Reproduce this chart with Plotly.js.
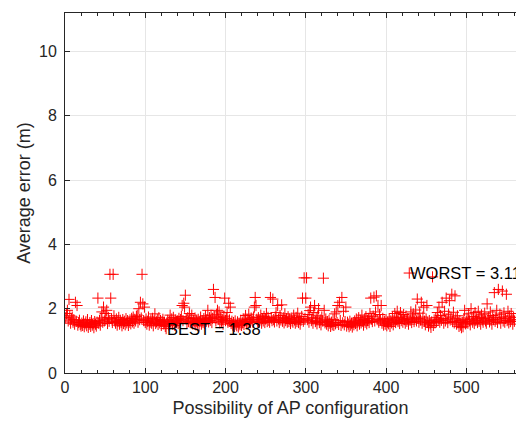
<!DOCTYPE html>
<html>
<head>
<meta charset="utf-8">
<script src="https://cdn.plot.ly/plotly-3.0.1.min.js"></script>
<style>html,body{margin:0;padding:0;background:#fff;}#chart{width:516px;height:424px;}</style>
</head>
<body>
<div id="chart"></div>
<script>
// Average error (m) for each AP configuration (index 1..560)
const avgError = [
1.72,1.85,1.95,1.62,2.29,1.78,1.55,1.68,1.74,1.58,1.66,1.52,2.20,1.61,2.10,1.49,1.57,1.64,1.51,1.46,
1.55,1.48,1.62,1.44,1.53,1.59,1.47,1.66,1.42,1.51,1.57,1.45,1.63,1.49,1.54,1.41,1.60,1.52,1.46,1.58,
2.33,1.55,1.64,1.49,1.71,1.90,1.58,2.05,1.62,1.85,1.67,1.95,1.54,1.73,1.61,3.07,2.33,1.69,1.57,3.07,
1.78,1.62,1.55,1.68,1.49,1.60,1.73,1.52,1.64,1.57,1.47,1.66,1.54,1.61,1.50,1.69,1.56,1.63,1.48,1.58,
1.65,1.53,1.70,1.59,1.74,1.55,1.67,1.62,1.76,1.80,1.58,2.00,1.66,2.20,1.71,3.07,2.15,1.63,2.05,1.57,
1.68,1.52,1.61,1.74,1.49,1.58,1.65,1.55,1.70,1.47,1.62,1.84,1.54,1.59,1.66,1.51,1.72,1.56,1.63,1.48,
1.60,1.67,1.53,1.58,1.45,1.38,1.56,1.64,1.50,1.61,1.80,1.55,1.68,1.52,1.73,1.59,1.48,1.65,1.57,1.62,
1.54,1.70,1.58,1.66,1.76,2.10,1.63,2.17,2.05,2.42,1.68,1.55,1.72,1.60,1.85,1.57,1.69,1.80,1.53,1.64,
1.58,1.71,1.50,1.62,1.55,1.67,1.47,1.60,1.74,1.52,1.63,1.57,1.69,1.54,1.78,1.61,1.66,1.95,1.59,1.72,
1.64,1.80,1.57,1.70,2.60,1.75,2.35,1.62,1.83,1.95,1.68,1.90,1.56,1.73,1.61,1.66,1.52,1.77,2.33,1.63,
1.70,1.88,1.58,2.17,1.65,2.05,1.54,1.61,1.49,1.57,1.45,1.62,1.52,1.47,1.59,1.43,1.55,1.50,1.64,1.48,
1.56,1.68,1.51,1.60,1.79,1.54,1.66,1.58,1.83,1.62,1.57,1.71,1.65,1.59,1.74,2.05,2.35,2.10,1.67,1.61,
1.72,1.58,1.65,1.80,1.55,1.69,1.62,1.76,1.57,1.68,1.85,1.60,1.73,1.64,1.58,2.35,1.70,1.63,2.30,1.66,
1.59,1.74,1.88,1.62,2.10,1.68,1.57,1.79,1.65,2.12,1.61,1.72,1.56,1.84,1.63,1.69,1.58,1.75,1.60,1.67,
1.54,1.71,1.62,1.58,1.80,1.65,1.55,1.73,1.60,1.86,1.57,1.68,1.52,1.64,1.76,2.33,1.61,2.96,1.70,2.33,
2.96,1.66,1.82,1.58,1.94,2.05,1.63,1.72,1.55,1.88,2.10,1.60,1.69,1.53,1.78,2.00,1.57,1.65,1.50,1.74,
1.62,2.95,1.95,1.56,1.68,1.52,1.60,1.47,1.64,1.55,1.45,1.58,1.50,1.66,1.48,1.84,1.53,1.90,1.57,2.10,
1.51,2.20,1.63,1.48,2.35,1.56,1.92,1.50,1.60,2.05,1.46,1.58,1.52,1.44,1.61,1.49,1.55,1.43,1.57,1.50,
1.62,1.54,1.68,1.47,1.59,1.72,1.52,1.64,1.56,1.80,1.61,1.49,1.66,1.58,1.75,1.53,1.63,1.70,1.57,1.85,
2.33,1.68,1.60,1.77,2.36,1.62,1.90,2.40,1.66,2.10,1.58,1.82,1.64,2.10,1.55,1.70,1.49,1.61,1.52,1.66,
1.47,1.58,1.53,1.69,1.45,1.62,1.56,1.74,1.50,1.64,1.85,1.57,1.67,1.92,1.60,1.73,1.54,1.88,1.63,1.70,
1.58,1.82,1.66,1.55,1.77,1.61,1.69,1.52,3.11,1.64,1.90,1.57,1.72,1.84,1.60,1.67,1.96,1.62,2.30,1.70,
1.58,1.86,1.65,2.20,1.55,1.74,2.05,1.61,1.50,1.68,2.10,1.57,1.46,1.63,1.53,1.42,1.59,2.99,1.48,1.65,
1.56,1.72,1.60,1.88,1.67,2.05,1.58,1.79,1.64,2.20,1.70,1.55,1.92,1.62,2.33,1.68,1.57,1.83,2.25,1.65,
1.74,2.45,1.60,1.89,1.56,2.40,1.69,1.52,1.78,1.58,1.45,1.63,1.49,1.41,1.57,1.44,1.66,1.95,1.53,1.60,
1.71,1.55,1.84,1.62,1.50,2.00,1.67,1.58,1.76,1.54,1.88,1.63,1.69,1.57,1.92,1.61,1.73,1.52,1.81,1.65,
1.58,1.70,1.86,1.62,1.55,2.15,1.68,1.74,1.59,1.90,1.64,1.52,1.79,1.66,2.50,1.61,1.72,1.95,1.57,2.60,
1.68,1.83,1.55,1.74,2.55,1.62,1.87,1.58,1.70,2.45,1.63,1.92,1.56,1.77,1.60,1.85,1.66,1.52,1.73,1.61
];
const configIndex = avgError.map((_, i) => i + 1);

const bestIdx = avgError.indexOf(Math.min(...avgError));
const worstIdx = avgError.indexOf(Math.max(...avgError));

const xTickVals = [0, 100, 200, 300, 400, 500];
const yTickVals = [0, 2, 4, 6, 8, 10];

const axisColor = '#262626';
const gridColor = '#e6e6e6';
const fontFam = '"Liberation Sans", Arial, Helvetica, sans-serif';

const trace = {
  x: configIndex,
  y: avgError,
  type: 'scatter',
  mode: 'markers',
  marker: {symbol: 'cross-thin', size: 8, color: '#ff0000', line: {color: '#ff0000', width: 1}},
  hoverinfo: 'x+y'
};

const layout = {
  width: 516, height: 424,
  margin: {l: 65, r: 0, t: 13, b: 51, pad: 0},
  paper_bgcolor: '#ffffff', plot_bgcolor: '#ffffff',
  showlegend: false,
  font: {family: fontFam, color: axisColor, size: 16},
  xaxis: {
    range: [0, 562], tickvals: xTickVals, ticks: 'inside', ticklen: 5, tickwidth: 1, tickcolor: axisColor,
    showline: true, linecolor: axisColor, linewidth: 1, mirror: 'ticks',
    showgrid: true, gridcolor: gridColor, gridwidth: 1, zeroline: false,
    minor: {dtick: 20, ticks: 'inside', ticklen: 3, tickcolor: axisColor, showgrid: false},
    tickfont: {size: 16, color: axisColor},
    title: {text: 'Possibility of AP configuration', font: {size: 18, color: axisColor}, standoff: 6}
  },
  yaxis: {
    range: [0, 11.2], tickvals: yTickVals, ticks: 'inside', ticklen: 5, tickwidth: 1, tickcolor: axisColor,
    showline: true, linecolor: axisColor, linewidth: 1, mirror: false,
    showgrid: true, gridcolor: gridColor, gridwidth: 1, zeroline: false,
    tickfont: {size: 16, color: axisColor}, ticklabelstandoff: 4,
    title: {text: 'Average error (m)', font: {size: 18, color: axisColor}, standoff: 3}
  },
  annotations: [
    {x: configIndex[bestIdx], y: avgError[bestIdx], xref: 'x', yref: 'y', text: 'BEST = ' + avgError[bestIdx].toFixed(2),
     showarrow: false, xanchor: 'left', yanchor: 'middle', font: {size: 16.5, color: '#000000'}, borderpad: 0},
    {x: configIndex[worstIdx], y: avgError[worstIdx], xref: 'x', yref: 'y', text: 'WORST = ' + avgError[worstIdx].toFixed(2),
     showarrow: false, xanchor: 'left', yanchor: 'middle', font: {size: 16.5, color: '#000000'}, borderpad: 0}
  ]
};

Plotly.newPlot('chart', [trace], layout, {staticPlot: true, displayModeBar: false});
</script>
</body>
</html>
